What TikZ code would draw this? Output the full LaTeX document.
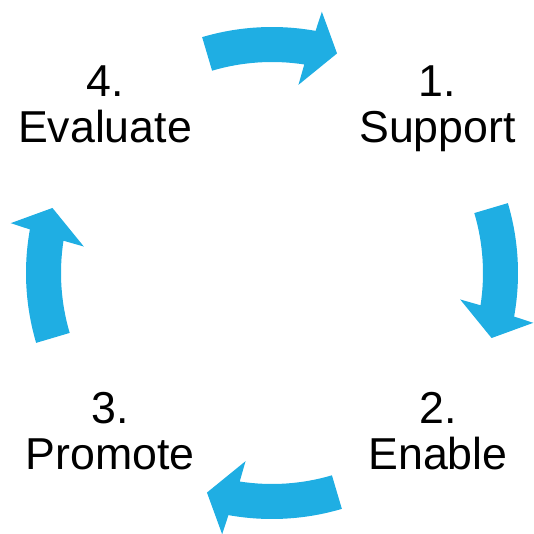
\documentclass[tikz,border=0pt]{standalone}
\usepackage{fontspec}
\setmainfont{Liberation Sans}
\usepackage{xcolor}
\usepackage{tikz}
\usetikzlibrary{positioning}
\definecolor{cyclecyan}{RGB}{31,174,227}

% one curved block arrow of the cycle, centred on direction #1, turning clockwise
\newcommand{\cyclearrow}[1]{%
  \fill[cyclefill] ({#1+16.5}:246pt) arc[start angle={#1+16.5}, end angle={#1-10.2}, radius=246pt]
    -- ({#1-10.8}:266pt) -- ({#1-16.5}:229pt) -- ({#1-8}:190pt) -- ({#1-8.8}:211pt)
    arc[start angle={#1-8.8}, end angle={#1+16.5}, radius=211pt] -- cycle;}

\begin{document}
\begin{tikzpicture}[x=1pt, y=1pt,
    cyclefill/.style={fill=cyclecyan},
    stage/.style={align=center, anchor=north, inner sep=0pt,
        font=\fontsize{44.7}{46}\selectfont}]
    \useasboundingbox (-272,-261) rectangle (261,273);
    \coordinate (hub) at (0,0);

    % Arrows around the hub
    \cyclearrow{90}
    \cyclearrow{0}
    \cyclearrow{-90}
    \cyclearrow{180}

    % Stages
    \node[stage] (support) at (165.5,207) {1.\\Support};
    \node[stage] (enable) at (166,-119) {2.\\Enable};
    \node[stage] (promote) at (-162,-119) {3.\\Promote};
    \node[stage] (evaluate) at (-167,207) {4.\\Evaluate};
\end{tikzpicture}
\end{document}
